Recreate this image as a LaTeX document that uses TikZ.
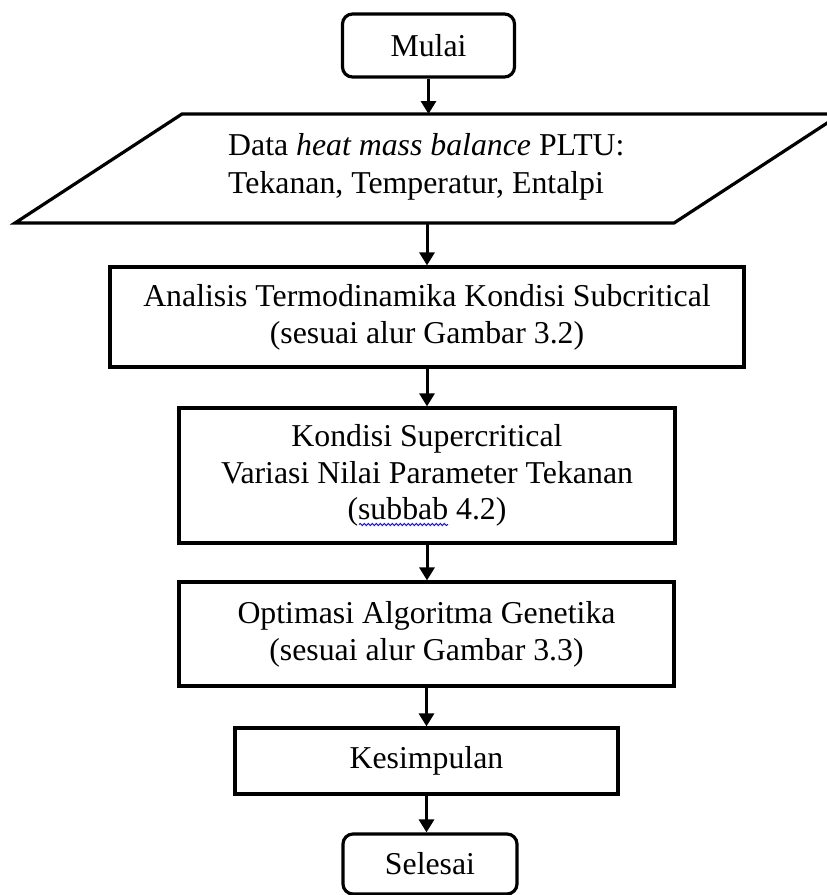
\documentclass[tikz,border=0pt]{standalone}
\usepackage{fontspec}
\setmainfont{Liberation Serif}
\usetikzlibrary{arrows.meta,calc,decorations.pathmorphing}
\begin{document}
\begin{tikzpicture}[x=1pt,y=-1pt,
  every node/.style={font=\fontsize{31.8}{36.8}\selectfont},
  box/.style={draw, line width=3.2pt, inner sep=0pt, align=center},
  term/.style={box, rounded corners=10pt},
  arr/.style={line width=3pt, -{Triangle[width=15pt,length=13pt]}},
  squig/.style={draw=blue, line width=0.9pt, decorate, decoration={snake, amplitude=1.1pt, segment length=4pt}}]
\useasboundingbox (0,0) rectangle (827,895);

\node[term, minimum width=172pt, minimum height=63pt] (mulai) at (428.5,45.5) {Mulai};

\node[inner sep=0pt, align=left, anchor=north west, font=\fontsize{31.8}{38}\selectfont] (data) at (228,133.5)
  {Data \textit{heat mass balance} PLTU:\\Tekanan, Temperatur, Entalpi};
\draw[line width=3.2pt] (15,223) -- (182,114) -- (841,114) -- (674,223) -- cycle;
\coordinate (datatop) at (428.5,114);
\coordinate (databot) at (427,223);

\node[box, minimum width=634pt, minimum height=100pt] (analisis) at (427,317)
  {Analisis Termodinamika Kondisi Subcritical\\(sesuai alur Gambar 3.2)};
\node[box, minimum width=496pt, minimum height=135pt] (kondisi) at (427,475.5)
  {Kondisi Supercritical\\Variasi Nilai Parameter Tekanan\\(subbab 4.2)};
\draw[squig] ($(kondisi.center)+(-68,49)$) -- ($(kondisi.center)+(21,49)$);
\node[box, minimum width=495pt, minimum height=104pt] (optimasi) at (426.5,634)
  {Optimasi Algoritma Genetika\\(sesuai alur Gambar 3.3)};
\node[box, minimum width=383pt, minimum height=66pt] (kesimpulan) at (426.5,761) {Kesimpulan};
\node[term, minimum width=174pt, minimum height=60pt] (selesai) at (430,864) {Selesai};

\draw[arr] (mulai.south) -- (datatop);
\draw[arr] (databot) -- (databot |- analisis.north);
\draw[arr] (analisis.south) -- (analisis.south |- kondisi.north);
\draw[arr] (kondisi.south) -- (kondisi.south |- optimasi.north);
\draw[arr] (optimasi.south) -- (optimasi.south |- kesimpulan.north);
\draw[arr] (kesimpulan.south) -- (kesimpulan.south |- selesai.north);
\end{tikzpicture}
\end{document}
